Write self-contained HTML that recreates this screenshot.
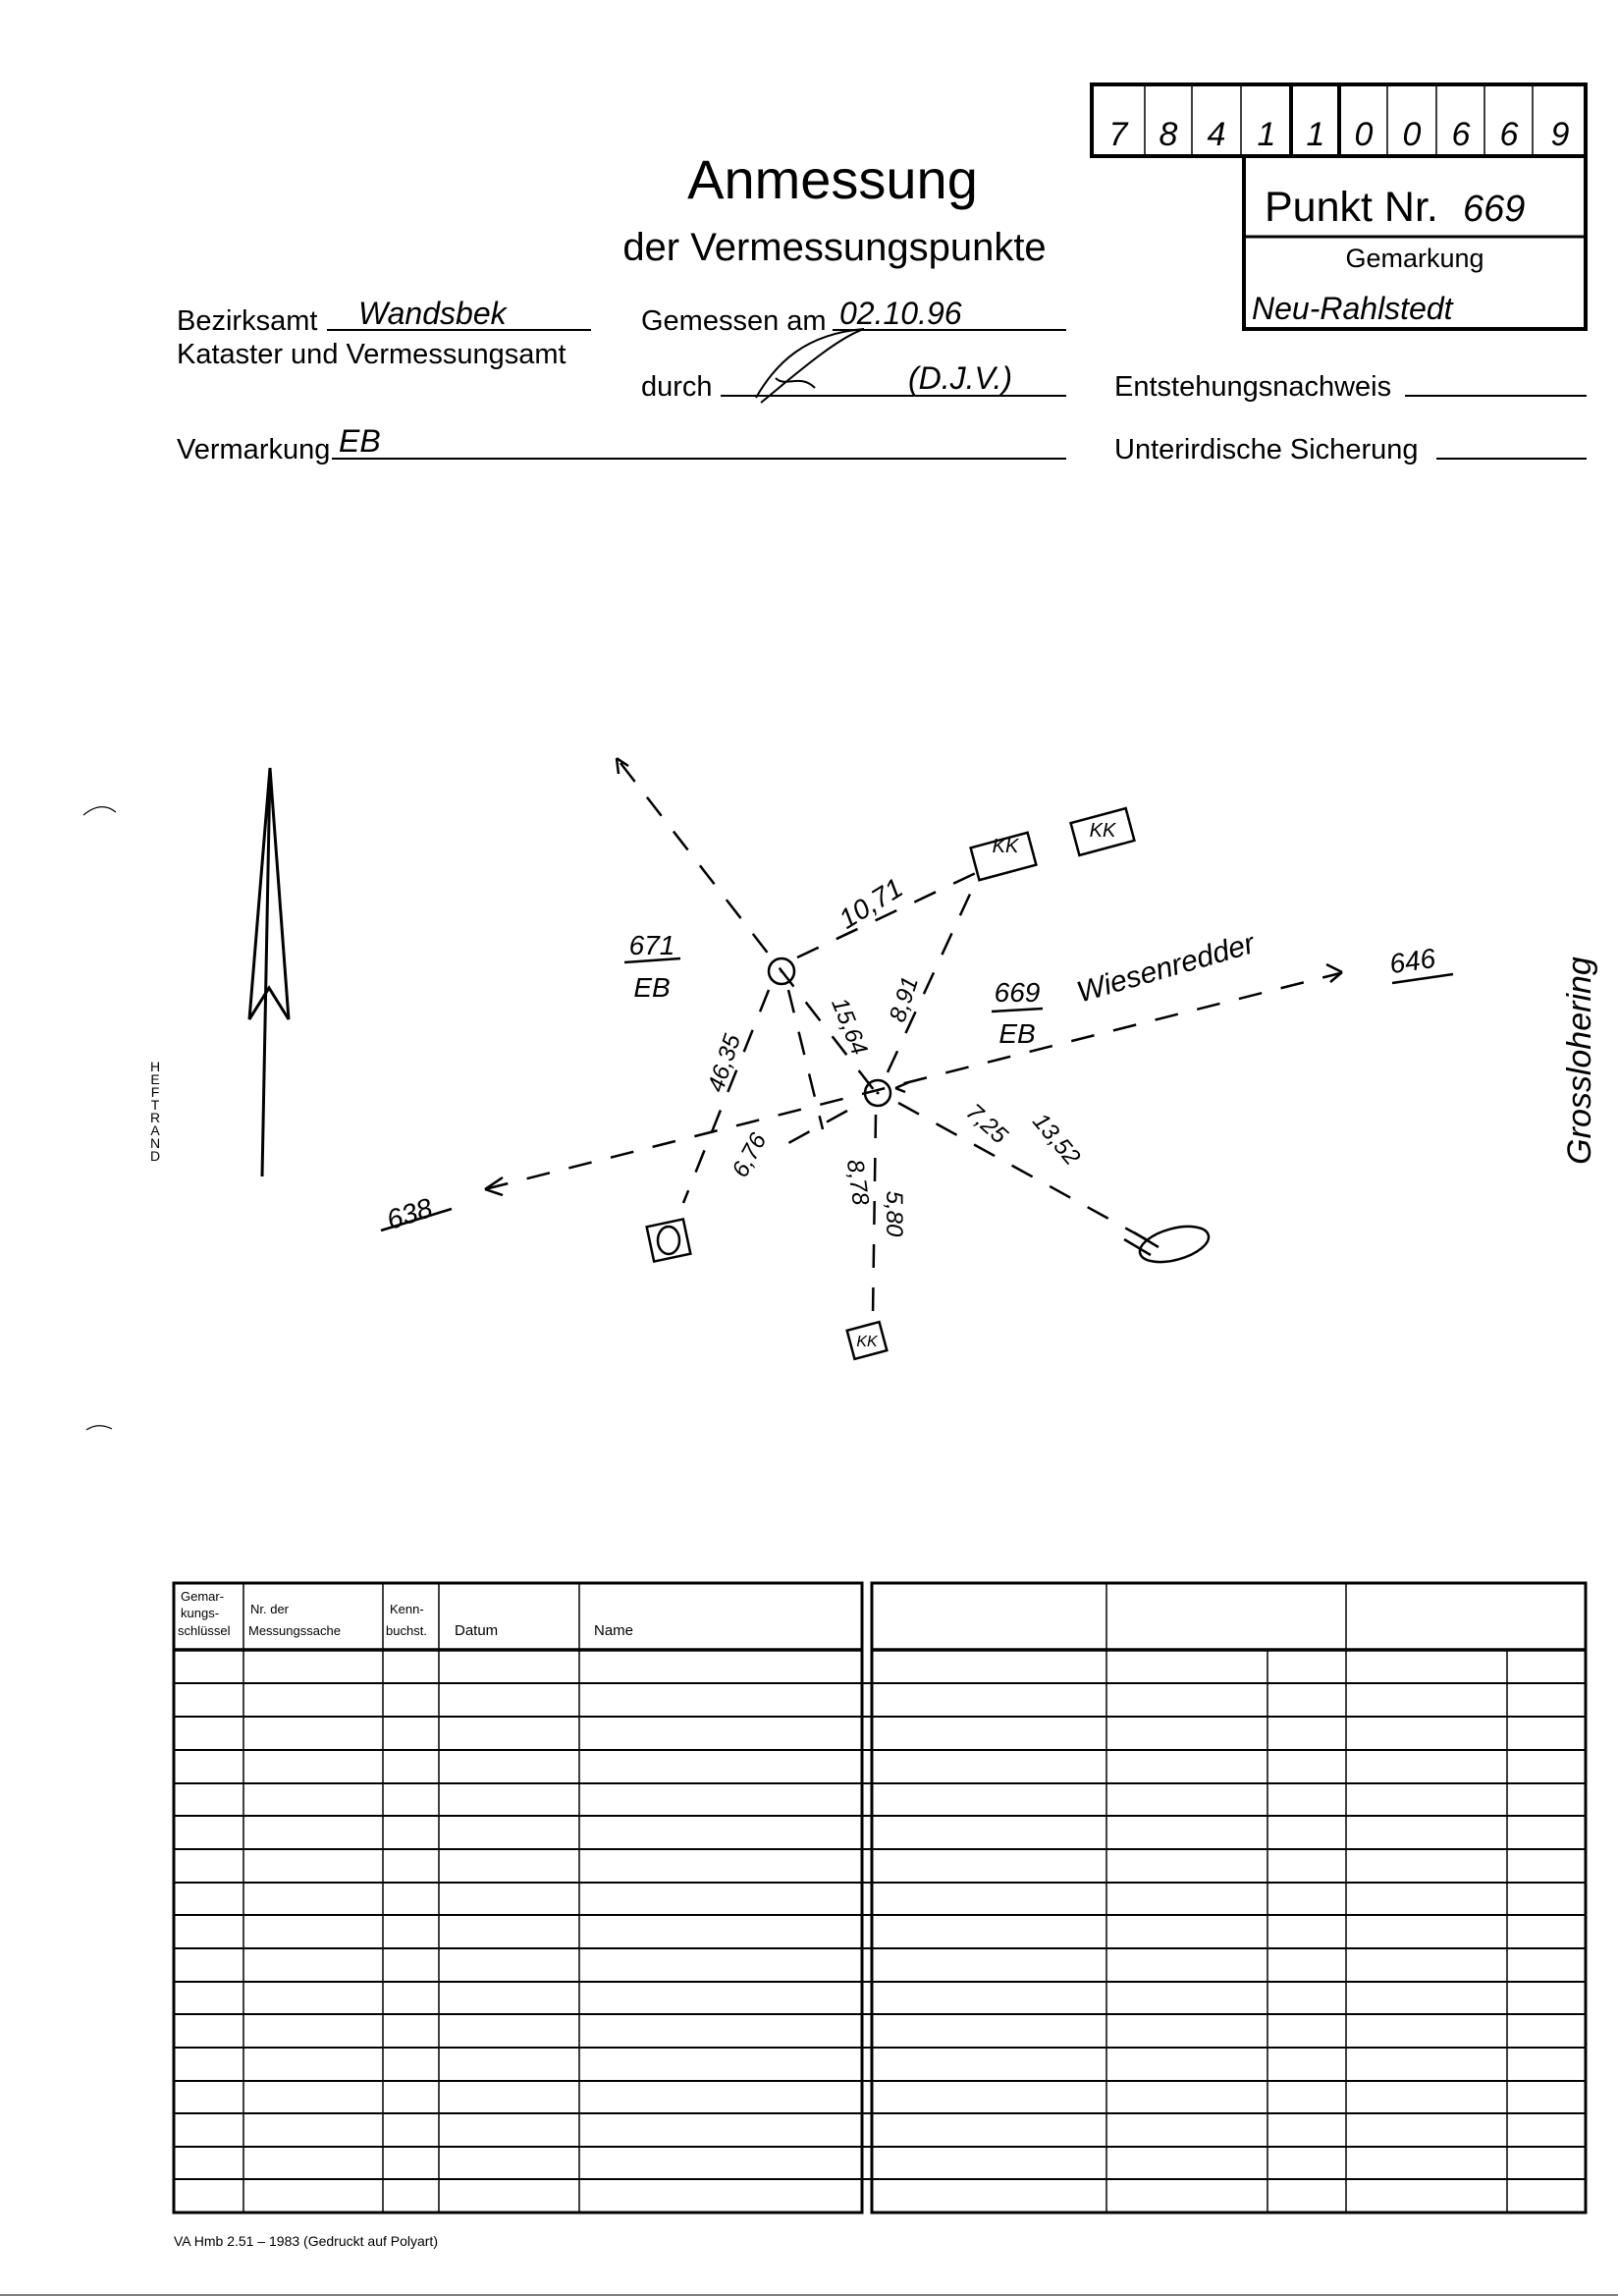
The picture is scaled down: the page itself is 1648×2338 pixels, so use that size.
<!DOCTYPE html>
<html><head><meta charset="utf-8"><style>
html,body{margin:0;padding:0;background:#fff;}
svg{display:block;}
.p{font-family:"Liberation Sans",sans-serif;fill:#000;}
.h{font-family:"Liberation Sans",sans-serif;font-style:italic;fill:#000;}
</style></head><body>
<svg width="1648" height="2338" viewBox="0 0 1648 2338" xmlns="http://www.w3.org/2000/svg">
<rect width="1648" height="2338" fill="#fff"/>
<g stroke="#000" fill="none">
<rect x="1112" y="86" width="503" height="73" stroke-width="4"/>
<rect x="1267" y="159" width="348" height="176" stroke-width="4"/>
<line x1="1267" y1="241" x2="1615" y2="241" stroke-width="3"/>
<g stroke-width="1.5">
<line x1="1166" y1="86" x2="1166" y2="159"/><line x1="1214" y1="86" x2="1214" y2="159"/>
<line x1="1264" y1="86" x2="1264" y2="159"/><line x1="1413" y1="86" x2="1413" y2="159"/>
<line x1="1463" y1="86" x2="1463" y2="159"/><line x1="1512" y1="86" x2="1512" y2="159"/>
<line x1="1561" y1="86" x2="1561" y2="159"/></g>
<line x1="1315" y1="86" x2="1315" y2="159" stroke-width="4"/>
<line x1="1364" y1="86" x2="1364" y2="159" stroke-width="4"/>
</g>
<g class="h" font-size="34" text-anchor="middle">
<text x="1139" y="148">7</text><text x="1190" y="148">8</text><text x="1239" y="148">4</text>
<text x="1290" y="148">1</text><text x="1340" y="148">1</text><text x="1389" y="148">0</text>
<text x="1438" y="148">0</text><text x="1488" y="148">6</text><text x="1537" y="148">6</text>
<text x="1589" y="148">9</text></g>
<text class="p" x="1288" y="225" font-size="43">Punkt Nr.</text>
<text class="h" x="1490" y="225" font-size="38">669</text>
<text class="p" x="1441" y="272" font-size="27" text-anchor="middle">Gemarkung</text>
<text class="h" x="1275" y="325" font-size="32">Neu-Rahlstedt</text>

<text class="p" x="848" y="202" font-size="56" text-anchor="middle">Anmessung</text>
<text class="p" x="850" y="265" font-size="40" text-anchor="middle">der Vermessungspunkte</text>

<g class="p" font-size="29">
<text x="180" y="336">Bezirksamt</text>
<text x="180" y="370">Kataster und Vermessungsamt</text>
<text x="653" y="336">Gemessen am</text>
<text x="653" y="403">durch</text>
<text x="1135" y="403">Entstehungsnachweis</text>
<text x="180" y="467">Vermarkung</text>
<text x="1135" y="467">Unterirdische Sicherung</text>
</g>
<g stroke="#000" stroke-width="2">
<line x1="333" y1="336" x2="602" y2="336"/>
<line x1="848" y1="336" x2="1086" y2="336"/>
<line x1="734" y1="403" x2="1086" y2="403"/>
<line x1="1431" y1="403" x2="1616" y2="403"/>
<line x1="338" y1="467" x2="1086" y2="467"/>
<line x1="1463" y1="467" x2="1616" y2="467"/>
</g>
<g class="h" font-size="32">
<text x="365" y="330">Wandsbek</text>
<text x="855" y="330">02.10.96</text>
<text x="925" y="396">(D.J.V.)</text>
<text x="345" y="460">EB</text>
</g>
<path d="M770 405 C790 370 820 340 880 335 C850 345 800 390 775 410 M790 385 C800 395 815 380 830 395" stroke="#000" stroke-width="2" fill="none"/>

<path d="M85 830 Q103 815 118 827" stroke="#000" stroke-width="1.2" fill="none"/>
<path d="M88 1456 Q100 1448 114 1455" stroke="#000" stroke-width="1.2" fill="none"/>

<g stroke="#000" stroke-width="3" fill="none" stroke-linejoin="miter">
<line x1="275" y1="782" x2="267" y2="1198"/>
<path d="M275 782 L254 1038 L274 1006 L294 1038 Z"/>
</g>
<g class="p" font-size="14" text-anchor="middle">
<text x="158" y="1091">H</text><text x="158" y="1104">E</text><text x="158" y="1117">F</text>
<text x="158" y="1130">T</text><text x="158" y="1143">R</text><text x="158" y="1156">A</text>
<text x="158" y="1169">N</text><text x="158" y="1182">D</text></g>

<g stroke="#000" stroke-width="2.5" fill="none" stroke-dasharray="24 20">
<line x1="632" y1="777" x2="894" y2="1115"/>
<line x1="494" y1="1211" x2="1365" y2="991"/>
<line x1="812" y1="975" x2="996" y2="888"/>
<line x1="904" y1="1092" x2="990" y2="906"/>
<line x1="783" y1="1008" x2="696" y2="1225"/>
<line x1="803" y1="1008" x2="838" y2="1150"/>
<line x1="863" y1="1131" x2="794" y2="1169"/>
<line x1="892" y1="1135" x2="889" y2="1340"/>
<line x1="915" y1="1123" x2="1169" y2="1263"/>
</g>
<g stroke="#000" stroke-width="2.5" fill="none">
<path d="M628 772 l2 16 M628 772 l12 8"/>
<path d="M494 1211 l18 -12 M494 1211 l18 6"/>
<path d="M1367 990 l-16 -8 M1367 990 l-12 10"/>
<path d="M912 1108 l14 -6 M912 1108 l10 4"/>
<line x1="1145" y1="1262" x2="1172" y2="1278"/>
<line x1="1155" y1="1255" x2="1180" y2="1270"/>
<circle cx="796" cy="989" r="13"/>
<circle cx="894" cy="1113" r="13"/>
<ellipse cx="1196" cy="1267" rx="36" ry="16" transform="rotate(-15 1196 1267)"/>
<rect x="662" y="1245" width="38" height="36" transform="rotate(-12 681 1263)"/>
<ellipse cx="681" cy="1263" rx="11" ry="14"/>
<rect x="992" y="855" width="60" height="34" transform="rotate(-15 1022 872)"/>
<rect x="1094" y="830" width="58" height="34" transform="rotate(-15 1123 847)"/>
<rect x="866" y="1350" width="34" height="30" transform="rotate(-15 883 1365)"/>
<line x1="636" y1="980" x2="693" y2="976"/>
<line x1="1010" y1="1030" x2="1062" y2="1027"/>
<line x1="388" y1="1253" x2="460" y2="1231"/>
<line x1="1418" y1="1001" x2="1480" y2="992"/>
</g>
<circle cx="796" cy="989" r="1.5"/><circle cx="894" cy="1113" r="1.5"/>
<g class="h" font-size="28" text-anchor="middle">
<text x="664" y="972">671</text><text x="664" y="1015">EB</text>
<text x="1036" y="1020">669</text><text x="1036" y="1062">EB</text>
<text x="1024" y="868" font-size="20">KK</text><text x="1123" y="852" font-size="20">KK</text>
<text x="883" y="1371" font-size="16">KK</text>
<text transform="translate(892 928) rotate(-32)">10,71</text>
<text transform="translate(745 1085) rotate(-72)" font-size="24">46,35</text>
<text transform="translate(858 1048) rotate(68)" font-size="24">15,64</text>
<text transform="translate(928 1020) rotate(-72)" font-size="24">8,91</text>
<text transform="translate(770 1180) rotate(-62)" font-size="24">6,76</text>
<text transform="translate(866 1205) rotate(82)" font-size="24">8,78</text>
<text transform="translate(903 1236) rotate(90)" font-size="24">5,80</text>
<text transform="translate(1000 1150) rotate(42)" font-size="24">7,25</text>
<text transform="translate(1070 1165) rotate(50)" font-size="24">13,52</text>
<text transform="translate(420 1245) rotate(-18)">638</text>
<text transform="translate(1440 988) rotate(-8)">646</text>
<text transform="translate(1190 995) rotate(-16)" font-size="30">Wiesenredder</text>
<text transform="translate(1620 1080) rotate(-90)" font-size="34">Grosslohering</text>
</g>

<g stroke="#000" fill="none">
<rect x="177" y="1612" width="701" height="641" stroke-width="3"/>
<rect x="888" y="1612" width="727" height="641" stroke-width="3"/>
<line x1="177" y1="1680" x2="878" y2="1680" stroke-width="3.5"/>
<line x1="888" y1="1680" x2="1615" y2="1680" stroke-width="3.5"/>
<g stroke-width="1.5">
<line x1="248" y1="1612" x2="248" y2="2253"/><line x1="390" y1="1612" x2="390" y2="2253"/>
<line x1="447" y1="1612" x2="447" y2="2253"/><line x1="590" y1="1612" x2="590" y2="2253"/>
<line x1="1127" y1="1612" x2="1127" y2="2253"/><line x1="1371" y1="1612" x2="1371" y2="2253"/>
<line x1="1291" y1="1680" x2="1291" y2="2253"/><line x1="1535" y1="1680" x2="1535" y2="2253"/>
</g>
<g stroke-width="2">
<line x1="177" y1="1714" x2="1615" y2="1714"/><line x1="177" y1="1748" x2="1615" y2="1748"/>
<line x1="177" y1="1782" x2="1615" y2="1782"/><line x1="177" y1="1816" x2="1615" y2="1816"/>
<line x1="177" y1="1849" x2="1615" y2="1849"/><line x1="177" y1="1883" x2="1615" y2="1883"/>
<line x1="177" y1="1917" x2="1615" y2="1917"/><line x1="177" y1="1950" x2="1615" y2="1950"/>
<line x1="177" y1="1984" x2="1615" y2="1984"/><line x1="177" y1="2018" x2="1615" y2="2018"/>
<line x1="177" y1="2051" x2="1615" y2="2051"/><line x1="177" y1="2085" x2="1615" y2="2085"/>
<line x1="177" y1="2119" x2="1615" y2="2119"/><line x1="177" y1="2152" x2="1615" y2="2152"/>
<line x1="177" y1="2186" x2="1615" y2="2186"/><line x1="177" y1="2219" x2="1615" y2="2219"/>
</g>
</g>
<g class="p" font-size="13">
<text x="184" y="1630">Gemar-</text><text x="184" y="1647">kungs-</text><text x="181" y="1665">schlüssel</text>
<text x="255" y="1643">Nr. der</text><text x="253" y="1665">Messungssache</text>
<text x="397" y="1643">Kenn-</text><text x="393" y="1665">buchst.</text>
<text x="463" y="1665" font-size="15">Datum</text><text x="605" y="1665" font-size="15">Name</text>
</g>
<text class="p" x="177" y="2287" font-size="14">VA Hmb 2.51 – 1983 (Gedruckt auf Polyart)</text>
<line x1="0" y1="2337" x2="1648" y2="2337" stroke="#000" stroke-width="1"/>
</svg>
</body></html>
